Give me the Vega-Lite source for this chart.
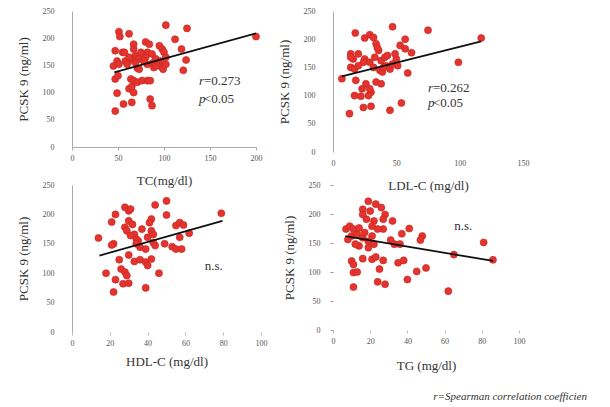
{
  "$schema": "https://vega.github.io/schema/vega-lite/v6.json",
  "background": "white",
  "padding": {"left": 17, "top": 7, "right": 5, "bottom": 5},
  "datasets": {
    "tc": [
      {"x":51,"y":212},{"x":52,"y":203},{"x":62,"y":208},{"x":102,"y":224},{"x":125,"y":218},{"x":112,"y":198},{"x":67,"y":189},{"x":80,"y":193},{"x":84,"y":189},{"x":95,"y":186},{"x":98,"y":180},{"x":119,"y":180},{"x":47,"y":177},{"x":55,"y":174},{"x":57,"y":174},{"x":67,"y":180},{"x":69,"y":168},{"x":76,"y":171},{"x":82,"y":174},{"x":87,"y":171},{"x":100,"y":174},{"x":102,"y":165},{"x":124,"y":160},{"x":49,"y":158},{"x":58,"y":158},{"x":65,"y":160},{"x":73,"y":162},{"x":80,"y":165},{"x":91,"y":162},{"x":96,"y":158},{"x":45,"y":149},{"x":51,"y":152},{"x":60,"y":152},{"x":69,"y":155},{"x":71,"y":145},{"x":82,"y":152},{"x":89,"y":146},{"x":95,"y":149},{"x":99,"y":143},{"x":102,"y":152},{"x":121,"y":141},{"x":47,"y":125},{"x":50,"y":131},{"x":64,"y":125},{"x":67,"y":122},{"x":71,"y":119},{"x":76,"y":122},{"x":82,"y":122},{"x":85,"y":122},{"x":62,"y":107},{"x":65,"y":111},{"x":67,"y":100},{"x":49,"y":99},{"x":85,"y":88},{"x":87,"y":76},{"x":56,"y":79},{"x":65,"y":82},{"x":47,"y":66},{"x":200,"y":203},{"x":73,"y":143},{"x":75,"y":174},{"x":88,"y":155},{"x":92,"y":150},{"x":78,"y":158},{"x":62,"y":165}
    ],
    "tcLine": [{"x":46,"y":137},{"x":200,"y":209}],
    "ldl": [
      {"x":17.6,"y":211},{"x":47,"y":222},{"x":75,"y":216},{"x":117,"y":202},{"x":99,"y":159},{"x":7,"y":130},{"x":25,"y":202},{"x":29,"y":208},{"x":57,"y":200},{"x":57,"y":183},{"x":53,"y":189},{"x":62,"y":176},{"x":59,"y":140},{"x":54,"y":87},{"x":45,"y":74},{"x":30,"y":81},{"x":24,"y":79},{"x":13,"y":68},{"x":17,"y":100},{"x":22,"y":99},{"x":14,"y":174},{"x":16,"y":165},{"x":20,"y":174},{"x":14,"y":150},{"x":17,"y":147},{"x":18,"y":127},{"x":23,"y":112},{"x":26,"y":121},{"x":30,"y":106},{"x":34,"y":124},{"x":38,"y":121},{"x":33,"y":168},{"x":34,"y":192},{"x":36,"y":180},{"x":38,"y":162},{"x":41,"y":168},{"x":42,"y":153},{"x":45,"y":147},{"x":47,"y":156},{"x":50,"y":165},{"x":49,"y":174},{"x":51,"y":153},{"x":25,"y":165},{"x":29,"y":159},{"x":32,"y":150},{"x":37,"y":145},{"x":39,"y":142},{"x":29,"y":112},{"x":28,"y":100},{"x":24,"y":159},{"x":20,"y":153},{"x":43,"y":171},{"x":32,"y":203},{"x":14,"y":168},{"x":35,"y":185},{"x":40,"y":150}
    ],
    "ldlLine": [{"x":7,"y":134},{"x":117,"y":196}],
    "hdl": [
      {"x":14,"y":160},{"x":18,"y":100},{"x":23,"y":89},{"x":22,"y":68},{"x":23,"y":200},{"x":21,"y":187},{"x":22,"y":150},{"x":21,"y":148},{"x":25,"y":123},{"x":26,"y":107},{"x":28,"y":102},{"x":29,"y":96},{"x":27,"y":82},{"x":30,"y":83},{"x":28,"y":212},{"x":30,"y":206},{"x":31,"y":209},{"x":30,"y":189},{"x":28,"y":178},{"x":29,"y":172},{"x":32,"y":183},{"x":33,"y":166},{"x":31,"y":164},{"x":34,"y":158},{"x":35,"y":155},{"x":36,"y":144},{"x":30,"y":131},{"x":33,"y":120},{"x":36,"y":123},{"x":39,"y":119},{"x":40,"y":113},{"x":42,"y":124},{"x":39,"y":75},{"x":46,"y":100},{"x":37,"y":175},{"x":40,"y":161},{"x":42,"y":172},{"x":43,"y":166},{"x":43,"y":152},{"x":44,"y":147},{"x":42,"y":192},{"x":41,"y":186},{"x":44,"y":216},{"x":50,"y":223},{"x":50,"y":199},{"x":49,"y":150},{"x":53,"y":145},{"x":55,"y":141},{"x":58,"y":141},{"x":57,"y":161},{"x":55,"y":181},{"x":57,"y":186},{"x":59,"y":182},{"x":62,"y":168},{"x":79,"y":202},{"x":39,"y":141},{"x":34,"y":150}
    ],
    "hdlLine": [{"x":14.5,"y":130},{"x":79.6,"y":189}],
    "tg": [
      {"x":19,"y":222},{"x":23,"y":217},{"x":26,"y":211},{"x":28,"y":199},{"x":16,"y":208},{"x":16,"y":199},{"x":20,"y":205},{"x":22,"y":188},{"x":21,"y":179},{"x":27,"y":191},{"x":27,"y":174},{"x":32,"y":188},{"x":41,"y":175},{"x":37,"y":166},{"x":7,"y":174},{"x":9,"y":179},{"x":11,"y":174},{"x":14,"y":176},{"x":8,"y":156},{"x":10,"y":162},{"x":13,"y":165},{"x":16,"y":159},{"x":17,"y":168},{"x":19,"y":153},{"x":21,"y":162},{"x":22,"y":148},{"x":19,"y":142},{"x":14,"y":145},{"x":12,"y":148},{"x":31,"y":155},{"x":33,"y":148},{"x":36,"y":148},{"x":48,"y":162},{"x":47,"y":155},{"x":10,"y":119},{"x":11,"y":113},{"x":16,"y":123},{"x":21,"y":122},{"x":23,"y":126},{"x":27,"y":120},{"x":35,"y":116},{"x":38,"y":120},{"x":11,"y":99},{"x":13,"y":100},{"x":25,"y":105},{"x":45,"y":101},{"x":50,"y":107},{"x":40,"y":87},{"x":24,"y":83},{"x":28,"y":79},{"x":11,"y":74},{"x":62,"y":67},{"x":65,"y":130},{"x":81,"y":151},{"x":86,"y":121},{"x":24,"y":174},{"x":18,"y":191}
    ],
    "tgLine": [{"x":6.6,"y":162},{"x":86,"y":119}],
    "ann1": [{"x":138,"y":122,"a":"r","b":"=0.273"},{"x":138,"y":89,"a":"p","b":"<0.05"}],
    "ann2": [{"x":75,"y":113,"a":"r","b":"=0.262"},{"x":75,"y":87,"a":"p","b":"<0.05"}],
    "ann3": [{"x":75,"y":112,"b":"n.s."}],
    "ann4": [{"x":70,"y":179,"b":"n.s."}]
  },
  "config": {
    "view": {"stroke": null},
    "font": "Liberation Serif",
    "axis": {
      "grid": false,
      "labelFont": "Liberation Serif",
      "labelFontSize": 8,
      "labelColor": "#555",
      "labelOverlap": false,
      "labelFlush": false,
      "tickCount": 20,
      "titleFont": "Liberation Serif",
      "titleFontSize": 13,
      "titleFontWeight": "normal",
      "titleColor": "#333",
      "domainColor": "#aaa",
      "tickColor": "#aaa",
      "tickSize": 3
    },
    "axisY": {"labelPadding": 18, "titlePadding": 12},
    "axisX": {"labelPadding": 4, "titlePadding": 12},
    "text": {"font": "Liberation Serif", "fontSize": 13, "color": "#333"},
    "title": {"font": "Liberation Serif"}
  },
  "title": {
    "text": "r=Spearman correlation coefficien",
    "orient": "bottom",
    "anchor": "end",
    "fontSize": 11,
    "fontStyle": "italic",
    "fontWeight": "normal",
    "color": "#333",
    "dx": 58,
    "offset": 19
  },
  "columns": 2,
  "bounds": "flush",
  "spacing": {"row": 33, "column": 72},
  "concat": [
    {
      "width": 184, "height": 136,
      "layer": [
        {
          "data": {"name": "tc"},
          "mark": {"type": "circle", "size": 50, "opacity": 1, "fill": "#e3342f", "stroke": "#c8251f", "strokeWidth": 0.6},
          "encoding": {
            "x": {"field": "x", "type": "quantitative", "scale": {"domain": [0, 200], "nice": false}, "axis": {"title": "TC(mg/dl)", "values": [0,50,100,150,200], "tickCount": 20}},
            "y": {"field": "y", "type": "quantitative", "scale": {"domain": [0, 250], "nice": false}, "axis": {"title": "PCSK 9 (ng/ml)", "values": [0,50,100,150,200,250], "ticks": false, "tickCount": 20}}
          }
        },
        {
          "data": {"name": "tcLine"},
          "mark": {"type": "line", "color": "#111", "strokeWidth": 1.8},
          "encoding": {"x": {"field": "x", "type": "quantitative"}, "y": {"field": "y", "type": "quantitative"}}
        },
        {
          "data": {"name": "ann1"},
          "mark": {"type": "text", "align": "left", "fontStyle": "italic"},
          "encoding": {"x": {"field": "x", "type": "quantitative"}, "y": {"field": "y", "type": "quantitative"}, "text": {"field": "a"}}
        },
        {
          "data": {"name": "ann1"},
          "mark": {"type": "text", "align": "left", "dx": 5},
          "encoding": {"x": {"field": "x", "type": "quantitative"}, "y": {"field": "y", "type": "quantitative"}, "text": {"field": "b"}}
        }
      ]
    },
    {
      "width": 190, "height": 141,
      "layer": [
        {
          "data": {"name": "ldl"},
          "mark": {"type": "circle", "size": 50, "opacity": 1, "fill": "#e3342f", "stroke": "#c8251f", "strokeWidth": 0.6},
          "encoding": {
            "x": {"field": "x", "type": "quantitative", "scale": {"domain": [0, 150], "nice": false}, "axis": {"title": "LDL-C (mg/dl)", "values": [0,50,100,150], "domain": false, "ticks": false, "labelPadding": 7, "tickCount": 20}},
            "y": {"field": "y", "type": "quantitative", "scale": {"domain": [0, 250], "nice": false}, "axis": {"title": "PCSK 9 (ng/ml)", "values": [0,50,100,150,200,250], "ticks": false, "tickCount": 20}}
          }
        },
        {
          "data": {"name": "ldlLine"},
          "mark": {"type": "line", "color": "#111", "strokeWidth": 1.8},
          "encoding": {"x": {"field": "x", "type": "quantitative"}, "y": {"field": "y", "type": "quantitative"}}
        },
        {
          "data": {"name": "ann2"},
          "mark": {"type": "text", "align": "left", "fontStyle": "italic"},
          "encoding": {"x": {"field": "x", "type": "quantitative"}, "y": {"field": "y", "type": "quantitative"}, "text": {"field": "a"}}
        },
        {
          "data": {"name": "ann2"},
          "mark": {"type": "text", "align": "left", "dx": 5},
          "encoding": {"x": {"field": "x", "type": "quantitative"}, "y": {"field": "y", "type": "quantitative"}, "text": {"field": "b"}}
        }
      ]
    },
    {
      "width": 189, "height": 147,
      "layer": [
        {
          "data": {"name": "hdl"},
          "mark": {"type": "circle", "size": 50, "opacity": 1, "fill": "#e3342f", "stroke": "#c8251f", "strokeWidth": 0.6},
          "encoding": {
            "x": {"field": "x", "type": "quantitative", "scale": {"domain": [0, 100], "nice": false}, "axis": {"title": "HDL-C (mg/dl)", "values": [0,20,40,60,80,100], "domain": false, "tickColor": "#bbb", "titlePadding": 8, "tickCount": 20}},
            "y": {"field": "y", "type": "quantitative", "scale": {"domain": [0, 250], "nice": false}, "axis": {"title": "PCSK 9 (ng/ml)", "values": [0,50,100,150,200,250], "ticks": false, "tickCount": 20}}
          }
        },
        {
          "data": {"name": "hdlLine"},
          "mark": {"type": "line", "color": "#111", "strokeWidth": 1.8},
          "encoding": {"x": {"field": "x", "type": "quantitative"}, "y": {"field": "y", "type": "quantitative"}}
        },
        {
          "data": {"name": "ann3"},
          "mark": {"type": "text", "align": "center"},
          "encoding": {"x": {"field": "x", "type": "quantitative"}, "y": {"field": "y", "type": "quantitative"}, "text": {"field": "b"}}
        }
      ]
    },
    {
      "width": 186, "height": 145,
      "layer": [
        {
          "data": {"name": "tg"},
          "mark": {"type": "circle", "size": 50, "opacity": 1, "fill": "#e3342f", "stroke": "#c8251f", "strokeWidth": 0.6},
          "encoding": {
            "x": {"field": "x", "type": "quantitative", "scale": {"domain": [0, 100], "nice": false}, "axis": {"title": "TG (mg/dl)", "values": [0,20,40,60,80,100], "domain": false, "tickColor": "#bbb", "titlePadding": 14, "tickCount": 20}},
            "y": {"field": "y", "type": "quantitative", "scale": {"domain": [0, 250], "nice": false}, "axis": {"title": "PCSK 9 (ng/ml)", "values": [0,50,100,150,200,250], "domain": false, "tickColor": "#999", "labelPadding": 10, "tickCount": 20}}
          }
        },
        {
          "data": {"name": "tgLine"},
          "mark": {"type": "line", "color": "#111", "strokeWidth": 1.8},
          "encoding": {"x": {"field": "x", "type": "quantitative"}, "y": {"field": "y", "type": "quantitative"}}
        },
        {
          "data": {"name": "ann4"},
          "mark": {"type": "text", "align": "center"},
          "encoding": {"x": {"field": "x", "type": "quantitative"}, "y": {"field": "y", "type": "quantitative"}, "text": {"field": "b"}}
        }
      ]
    }
  ]
}
